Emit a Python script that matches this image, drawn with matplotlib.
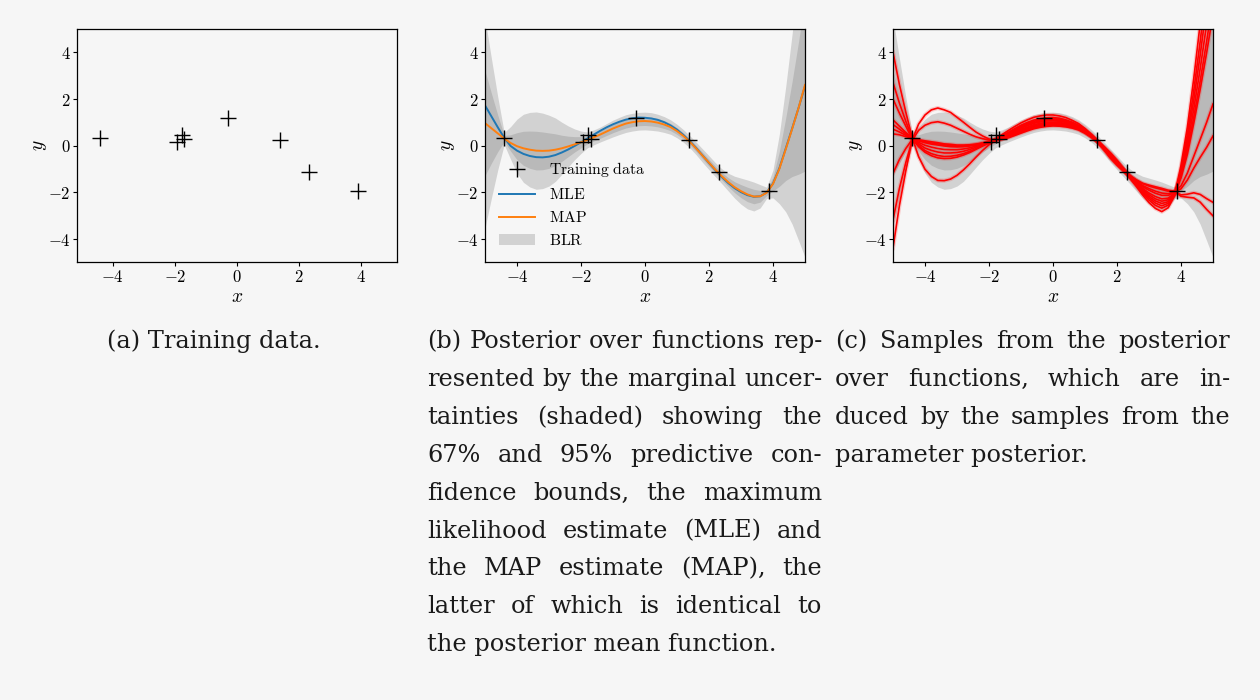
import numpy as np
import matplotlib
matplotlib.use('Agg')
import matplotlib.pyplot as plt
from matplotlib.ticker import FuncFormatter, MultipleLocator
from matplotlib.transforms import IdentityTransform

# --- data ---
train_x = [-4.42, -1.93, -1.78, -1.70, -0.29, 1.38, 2.31, 3.88]
train_y = [0.31, 0.13, 0.46, 0.30, 1.17, 0.22, -1.12, -1.96]

# curves are sampled on x = -5, -4.8, ..., 5 (51 points)
x_grid = np.round(np.linspace(-5, 5, 51), 2)

mle_y = [1.72, 1.25, 0.78, 0.33, -0.02, -0.22, -0.36, -0.45, -0.50, -0.51,
         -0.48, -0.41, -0.30, -0.17, -0.02, 0.14, 0.30, 0.47, 0.63, 0.78,
         0.91, 1.02, 1.11, 1.17, 1.20, 1.19, 1.16, 1.10, 1.00, 0.86,
         0.68, 0.45, 0.19, -0.11, -0.43, -0.75, -1.06, -1.35, -1.61, -1.83,
         -2.00, -2.13, -2.20, -2.18, -2.02, -1.63, -0.97, -0.12, 0.74, 1.62,
         2.55]
map_y = [0.96, 0.74, 0.52, 0.30, 0.11, -0.03, -0.12, -0.18, -0.22, -0.23,
         -0.22, -0.18, -0.12, -0.04, 0.05, 0.14, 0.24, 0.35, 0.47, 0.60,
         0.73, 0.84, 0.94, 1.00, 1.04, 1.05, 1.03, 0.98, 0.90, 0.79,
         0.62, 0.41, 0.16, -0.13, -0.44, -0.74, -1.04, -1.32, -1.57, -1.79,
         -1.96, -2.10, -2.19, -2.18, -2.03, -1.65, -1.00, -0.15, 0.72, 1.62,
         2.60]
# predictive standard deviation (half width of the 67% band)
pred_std = [2.25, 1.50, 0.78, 0.13, 0.35, 0.58, 0.73, 0.80, 0.83, 0.81,
            0.76, 0.68, 0.56, 0.44, 0.33, 0.24, 0.17, 0.16, 0.16, 0.17,
            0.18, 0.185, 0.19, 0.19, 0.19, 0.19, 0.19, 0.18, 0.17, 0.155,
            0.145, 0.135, 0.13, 0.135, 0.145, 0.15, 0.15, 0.16, 0.19, 0.235,
            0.28, 0.31, 0.31, 0.25, 0.12, 0.30, 0.75, 1.35, 2.05, 2.85,
            3.70]

# posterior function samples (panel c)
sample_1 = [4.00, 2.62, 1.43, 0.34, -0.48, -1.02, -1.33, -1.50, -1.51, -1.44,
            -1.28, -1.05, -0.78, -0.49, -0.21, 0.03, 0.22, 0.29, 0.38, 0.48,
            0.60, 0.69, 0.79, 0.85, 0.89, 0.90, 0.90, 0.86, 0.80, 0.71,
            0.56, 0.37, 0.15, -0.08, -0.35, -0.66, -1.00, -1.29, -1.47, -1.62,
            -1.70, -1.77, -1.84, -1.92, -1.96, -2.18, -2.22, -2.25, -2.43, -2.74,
            -3.02]
sample_2 = [2.70, 1.82, 1.04, 0.32, -0.05, -0.29, -0.44, -0.53, -0.56, -0.55,
            -0.50, -0.41, -0.30, -0.16, -0.02, 0.11, 0.26, 0.39, 0.53, 0.68,
            0.82, 0.94, 1.04, 1.10, 1.14, 1.15, 1.12, 1.06, 0.97, 0.84,
            0.66, 0.44, 0.17, -0.17, -0.51, -0.80, -1.07, -1.37, -1.71, -2.04,
            -2.34, -2.57, -2.69, -2.56, -2.13, -1.00, 0.47, 2.37, 4.47, 6.80,
            9.28]
sample_3 = [2.00, 1.39, 0.83, 0.28, 0.00, -0.22, -0.35, -0.43, -0.47, -0.46,
            -0.42, -0.35, -0.25, -0.13, 0.00, 0.12, 0.28, 0.46, 0.64, 0.81,
            0.97, 1.10, 1.21, 1.27, 1.31, 1.31, 1.27, 1.20, 1.08, 0.94,
            0.73, 0.48, 0.19, -0.11, -0.40, -0.70, -1.02, -1.35, -1.65, -1.94,
            -2.19, -2.38, -2.49, -2.41, -2.09, -1.22, 0.01, 1.58, 3.30, 5.19,
            7.21]
sample_4 = [1.10, 0.83, 0.56, 0.31, 0.07, -0.11, -0.21, -0.28, -0.32, -0.32,
            -0.30, -0.25, -0.17, -0.07, 0.03, 0.13, 0.23, 0.33, 0.44, 0.56,
            0.69, 0.79, 0.89, 0.95, 0.99, 1.00, 0.99, 0.94, 0.87, 0.76,
            0.60, 0.40, 0.16, -0.18, -0.53, -0.82, -1.08, -1.32, -1.56, -1.77,
            -1.92, -2.05, -2.14, -2.14, -2.02, -1.73, -1.18, -0.46, 0.26, 0.99,
            1.78]
sample_5 = [0.90, 0.70, 0.50, 0.29, 0.13, 0.01, -0.07, -0.13, -0.17, -0.18,
            -0.18, -0.15, -0.10, -0.02, 0.06, 0.14, 0.25, 0.37, 0.50, 0.64,
            0.78, 0.89, 0.99, 1.05, 1.09, 1.10, 1.08, 1.02, 0.93, 0.82,
            0.64, 0.42, 0.17, -0.07, -0.33, -0.64, -0.99, -1.39, -1.75, -2.12,
            -2.45, -2.70, -2.84, -2.67, -2.16, -0.86, 0.79, 2.89, 5.24, 7.85,
            10.63]
sample_6 = [0.70, 0.58, 0.44, 0.27, 0.20, 0.12, 0.06, 0.02, -0.02, -0.05,
            -0.06, -0.05, -0.02, 0.03, 0.09, 0.16, 0.21, 0.26, 0.33, 0.43,
            0.53, 0.63, 0.72, 0.78, 0.82, 0.84, 0.83, 0.80, 0.75, 0.67,
            0.53, 0.36, 0.14, -0.16, -0.49, -0.78, -1.06, -1.31, -1.53, -1.72,
            -1.85, -1.96, -2.04, -2.07, -2.00, -1.86, -1.48, -0.97, -0.51, -0.08,
            0.41]
sample_7 = [0.50, 0.46, 0.38, 0.33, 0.22, 0.16, 0.11, 0.07, 0.03, 0.00,
            -0.02, -0.02, 0.01, 0.05, 0.10, 0.16, 0.26, 0.41, 0.56, 0.72,
            0.87, 0.99, 1.09, 1.15, 1.19, 1.20, 1.17, 1.10, 1.00, 0.87,
            0.68, 0.45, 0.18, -0.09, -0.37, -0.68, -1.01, -1.34, -1.63, -1.89,
            -2.11, -2.29, -2.39, -2.33, -2.07, -1.31, -0.21, 1.22, 2.77, 4.46,
            6.27]
sample_8 = [-1.20, -0.60, -0.13, 0.26, 0.25, 0.20, 0.16, 0.12, 0.07, 0.05,
            0.02, 0.02, 0.03, 0.06, 0.11, 0.16, 0.23, 0.31, 0.41, 0.52,
            0.64, 0.74, 0.84, 0.90, 0.94, 0.95, 0.94, 0.90, 0.83, 0.74,
            0.58, 0.39, 0.15, -0.19, -0.55, -0.84, -1.09, -1.36, -1.68, -1.99,
            -2.26, -2.47, -2.59, -2.48, -2.11, -1.11, 0.24, 1.97, 3.89, 6.00,
            8.24]
sample_9 = [-3.20, -1.84, -0.73, 0.22, 0.65, 0.87, 0.98, 1.02, 0.96, 0.87,
            0.74, 0.61, 0.48, 0.37, 0.29, 0.24, 0.25, 0.36, 0.48, 0.61,
            0.74, 0.85, 0.95, 1.01, 1.05, 1.06, 1.04, 0.99, 0.91, 0.80,
            0.63, 0.42, 0.17, -0.13, -0.44, -0.74, -1.04, -1.29, -1.49, -1.64,
            -1.74, -1.82, -1.89, -1.96, -1.97, -2.12, -2.09, -2.03, -2.10, -2.28,
            -2.44]
sample_10 = [-4.40, -2.58, -1.09, 0.24, 0.92, 1.31, 1.53, 1.61, 1.53, 1.42,
             1.21, 1.00, 0.78, 0.57, 0.41, 0.28, 0.21, 0.28, 0.36, 0.46,
             0.57, 0.67, 0.76, 0.82, 0.86, 0.88, 0.87, 0.84, 0.78, 0.69,
             0.55, 0.37, 0.14, -0.10, -0.39, -0.69, -1.02, -1.33, -1.60, -1.84,
             -2.04, -2.19, -2.29, -2.26, -2.05, -1.39, -0.37, 0.97, 2.41, 3.97,
             5.64]
samples = [sample_1, sample_2, sample_3, sample_4, sample_5,
           sample_6, sample_7, sample_8, sample_9, sample_10]

caption_a = "(a) Training data."
caption_b = ["(b) Posterior over functions rep-",
             "resented by the marginal uncer-",
             "tainties (shaded) showing the",
             "67% and 95% predictive con-",
             "fidence bounds, the maximum",
             "likelihood estimate (MLE) and",
             "the MAP estimate (MAP), the",
             "latter of which is identical to",
             "the posterior mean function."]
caption_c = ["(c) Samples from the posterior",
             "over functions, which are in-",
             "duced by the samples from the",
             "parameter posterior."]

# --- style ---
BG = '#f6f6f6'
W, H = 1260, 700
plt.rcParams['mathtext.fontset'] = 'cm'
plt.rcParams['axes.linewidth'] = 0.9
CAP_FONT = 'DejaVu Serif'
CAP_SIZE = 17.3
MS = 11

mean = np.array(map_y)
std = np.array(pred_std)

fig = plt.figure(figsize=(W / 100, H / 100), dpi=100, facecolor=BG)


def make_axes(left_px, xlim):
    ax = fig.add_axes([left_px / W, 1 - 262 / H, 320 / W, 233 / H])
    ax.set_facecolor('none')
    ax.set_xlim(*xlim)
    ax.set_ylim(-5, 5)
    ax.xaxis.set_major_locator(MultipleLocator(2))
    ax.yaxis.set_major_locator(MultipleLocator(2))
    fmt = FuncFormatter(lambda v, p: r'$%d$' % round(v))
    ax.xaxis.set_major_formatter(fmt)
    ax.yaxis.set_major_formatter(fmt)
    ax.tick_params(labelsize=12, length=3, width=0.8, pad=1.5)
    ax.set_xlabel(r'$x$', fontsize=14, labelpad=0.5)
    ax.set_ylabel(r'$y$', fontsize=14, labelpad=-1)
    return ax


def draw_bands(ax, label=None):
    ax.fill_between(x_grid, mean - 2 * std, mean + 2 * std, color='gray',
                    alpha=0.3, lw=0, label=label)
    ax.fill_between(x_grid, mean - std, mean + std, color='gray', alpha=0.3, lw=0)


# --- (a) training data ---
ax_a = make_axes(77, (-5.15, 5.15))
ax_a.plot(train_x, train_y, '+', color='k', ms=MS, mew=1.0)

# --- (b) posterior over functions ---
ax_b = make_axes(485, (-5, 5))
draw_bands(ax_b, label=r'$\mathrm{BLR}$')
ax_b.plot(x_grid, mle_y, color='#1f77b4', lw=1.4, label=r'$\mathrm{MLE}$')
ax_b.plot(x_grid, map_y, color='#ff7f0e', lw=1.4, label=r'$\mathrm{MAP}$')
ax_b.plot(train_x, train_y, '+', color='k', ms=MS, mew=1.0,
          label=r'$\mathrm{Training\ data}$')
handles, labels = ax_b.get_legend_handles_labels()
order = [3, 1, 2, 0]
ax_b.legend([handles[i] for i in order], [labels[i] for i in order],
            loc='lower left', frameon=False, fontsize=11.3,
            handlelength=2.3, handletextpad=0.9, labelspacing=0.5)

# --- (c) samples from the posterior ---
ax_c = make_axes(893, (-5, 5))
draw_bands(ax_c)
for s in samples:
    ax_c.plot(x_grid, s, color='red', lw=3, alpha=0.18)
    ax_c.plot(x_grid, s, color='red', lw=1.2)
ax_c.plot(train_x, train_y, '+', color='k', ms=MS, mew=1.0)

# --- captions (justified like the book layout) ---
renderer = fig.canvas.get_renderer()
px = IdentityTransform()


def put_line(text, x0, x1, y_base, justify=True):
    kw = dict(transform=px, fontsize=CAP_SIZE, family=CAP_FONT,
              va='baseline', ha='left', color='#1a1a1a')
    words = text.split(' ')
    if not justify or len(words) == 1:
        fig.text(x0, H - y_base, text, **kw)
        return
    arts = [fig.text(0, H - y_base, w, **kw) for w in words]
    widths = [a.get_window_extent(renderer).width for a in arts]
    gap = (x1 - x0 - sum(widths)) / (len(words) - 1)
    x = x0
    for a, w in zip(arts, widths):
        a.set_x(x)
        x += w + gap


LINE_STEP = 37.9
put_line(caption_a, 107, 327, 348, justify=False)
for k, line in enumerate(caption_b):
    put_line(line, 427, 822, 348 + k * LINE_STEP, justify=k < len(caption_b) - 1)
for k, line in enumerate(caption_c):
    put_line(line, 835, 1230, 348 + k * LINE_STEP, justify=k < len(caption_c) - 1)

fig.savefig('out.png', dpi=100, facecolor=BG)
